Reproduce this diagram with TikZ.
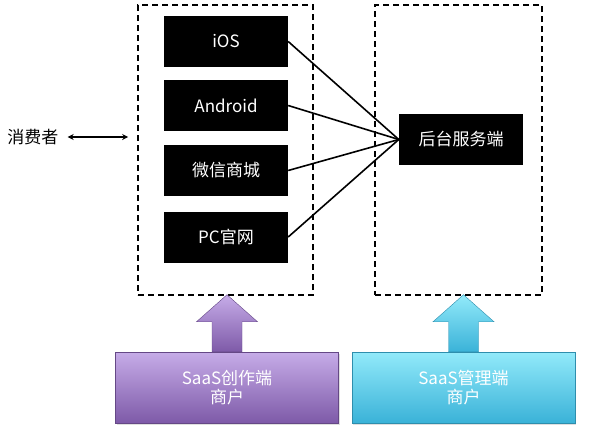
\documentclass[tikz,border=0pt]{standalone}
\usepackage{fontspec}
\setmainfont{Noto Sans CJK SC}
\usetikzlibrary{positioning,arrows.meta,calc,shadows}
\definecolor{purtop}{RGB}{198,172,232}
\definecolor{purbot}{RGB}{126,90,168}
\definecolor{cyatop}{RGB}{146,234,250}
\definecolor{cyabot}{RGB}{58,178,216}
\tikzset{
  grp/.style={rectangle,draw=black,line width=1.6pt,dash pattern=on 6pt off 4pt,inner sep=0pt},
  plat/.style={rectangle,fill=black,text=white,minimum width=124pt,minimum height=51pt,inner sep=0pt,font=\fontsize{17}{20}\selectfont},
  feed/.style={line width=1.6pt,black},
  link/.style={{Stealth[length=6pt,width=6pt]}-{Stealth[length=6pt,width=6pt]},line width=1.2pt},
  biz/.style={rectangle,draw=#1bot!80!black,line width=0.5pt,top color=#1top,bottom color=#1bot,text=white,align=center,minimum width=223pt,minimum height=71pt,inner sep=0pt,font=\fontsize{17}{19}\selectfont,drop shadow={opacity=0.25,shadow xshift=1pt,shadow yshift=-1.5pt}},
  up/.style={draw=#1bot!80!black,line width=0.4pt,top color=#1top,bottom color=#1bot},
}
\begin{document}
\begin{tikzpicture}[x=1pt,y=-1pt]
  \useasboundingbox (0,0) rectangle (590,442);
  % two groups
  \node[grp,minimum width=175pt,minimum height=290pt] (cli) at (225.5,150){};
  \node[grp,minimum width=167pt,minimum height=290pt] (srv) at (458.5,150){};
  % platforms
  \foreach \n/\y/\t in {ios/41.5/iOS, and/105.5/Android, wx/170.5/微信商城, pc/237/PC官网}{
    \node[plat] (\n) at (226,\y){\t};}
  \node[plat] (back) at (461,139.5){后台服务端};
  \foreach \n in {ios,and,wx,pc}{
    \draw[feed] (\n.east) -- (back.west);}
  % consumer
  \node[font=\fontsize{17}{20}\selectfont,inner sep=0pt] (cons) at (33,137){消费者};
  \draw[link,shorten <=9pt,shorten >=9pt] (cons.east) -- (cons.east -| cli.west);
  % merchants
  \node[biz=pur] (mk) at (227,387.5){SaaS创作端\\商户};
  \node[biz=cya] (mg) at (463.5,387.5){SaaS管理端\\商户};
  % big up arrows
  \foreach \b/\c in {mk/pur,mg/cya}{
    \shade[up=\c] ($(\b.north)+(-15,0)$) -- ++(0,-30) -- ++(-15.5,0) -- ($(\b.north)+(0,-57)$)
      -- ($(\b.north)+(30.5,-30)$) -- ++(-15.5,0) -- ($(\b.north)+(15,0)$) -- cycle;}
\end{tikzpicture}
\end{document}
